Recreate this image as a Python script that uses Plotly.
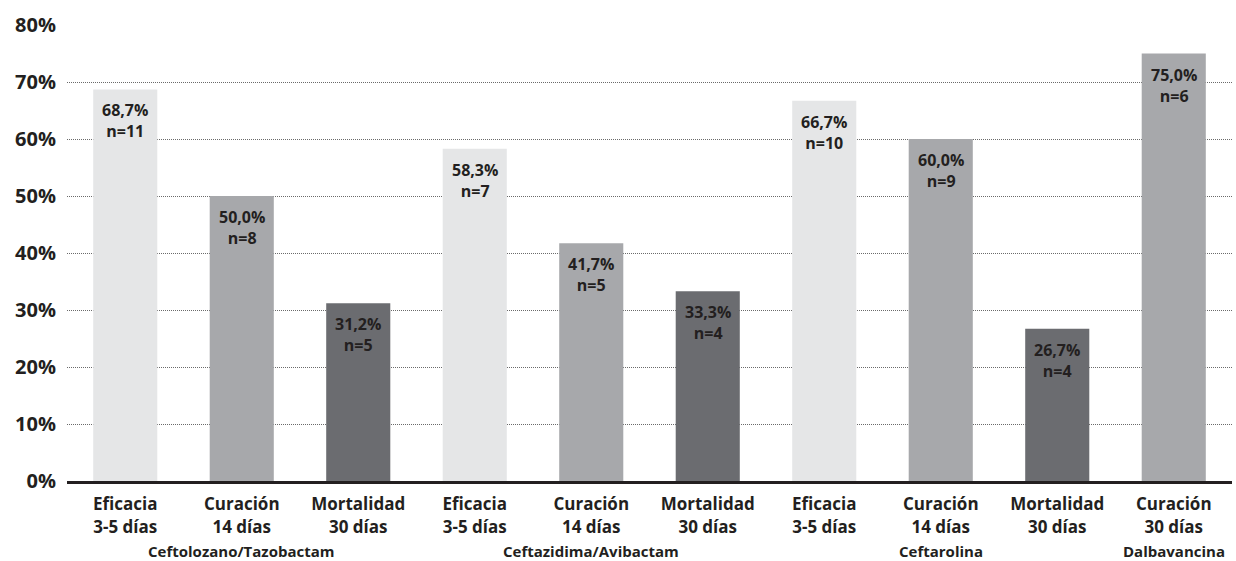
import plotly.graph_objects as go

categories = ["Eficacia<br>3-5 días", "Curación<br>14 días", "Mortalidad<br>30 días",
              "Eficacia<br>3-5 días", "Curación<br>14 días", "Mortalidad<br>30 días",
              "Eficacia<br>3-5 días", "Curación<br>14 días", "Mortalidad<br>30 días",
              "Curación<br>30 días"]
values = [68.7, 50.0, 31.2, 58.3, 41.7, 33.3, 66.7, 60.0, 26.7, 75.0]
counts = [11, 8, 5, 7, 5, 4, 10, 9, 4, 6]
kinds = ["ef", "cu", "mo", "ef", "cu", "mo", "ef", "cu", "mo", "cu"]
groups = ["Ceftolozano/Tazobactam", "Ceftazidima/Avibactam", "Ceftarolina", "Dalbavancina"]
group_center_idx = [1, 4, 7, 9]
y_ticks = [0, 10, 20, 30, 40, 50, 60, 70, 80]

kind_colors = {"ef": "#e5e6e7", "cu": "#a7a8ab", "mo": "#6b6c70"}
TEXT = "#231f20"
FONT = "Open Sans"

xs = list(range(len(values)))
fig = go.Figure()
fig.add_trace(go.Bar(
    x=xs, y=values,
    marker=dict(color=[kind_colors[k] for k in kinds], line=dict(width=0)),
    width=0.55,
    hoverinfo="skip",
))

annotations = []
for x, v, n in zip(xs, values, counts):
    annotations.append(dict(
        x=x, y=v, xref="x", yref="y", yanchor="top", yshift=-8,
        text=f"<b>{v:.1f}%".replace(".", ",") + f"<br>n={n}</b>",
        showarrow=False, font=dict(family=FONT, size=16, color=TEXT),
    ))
for g, idx in zip(groups, group_center_idx):
    annotations.append(dict(
        x=idx, y=0, xref="x", yref="paper", yanchor="middle", yshift=-70,
        text=f"<b>{g}</b>", showarrow=False,
        font=dict(family=FONT, size=15, color=TEXT),
    ))

fig.update_layout(
    width=1236, height=561,
    margin=dict(l=67, r=4, t=25, b=80),
    paper_bgcolor="white", plot_bgcolor="white",
    showlegend=False,
    annotations=annotations,
    font=dict(family=FONT, color=TEXT),
    xaxis=dict(
        tickmode="array", tickvals=xs,
        ticktext=[f"<b>{c}</b>" for c in categories],
        range=[-0.5, len(values) - 0.5],
        showgrid=False, showline=True, linecolor=TEXT, linewidth=3,
        ticks="", ticklabelstandoff=6,
        tickfont=dict(family=FONT, size=17, color=TEXT),
        fixedrange=True,
    ),
    yaxis=dict(
        range=[0, 80], tickmode="array", tickvals=y_ticks,
        ticktext=[f"<b>{t}%</b>" for t in y_ticks],
        showgrid=True, gridcolor="#6a6a6a", gridwidth=1, griddash="1px,1px",
        zeroline=False, showline=False, ticks="",
        ticklabelstandoff=10,
        tickfont=dict(family=FONT, size=20, color=TEXT),
    ),
)

fig.write_html("out.html")
